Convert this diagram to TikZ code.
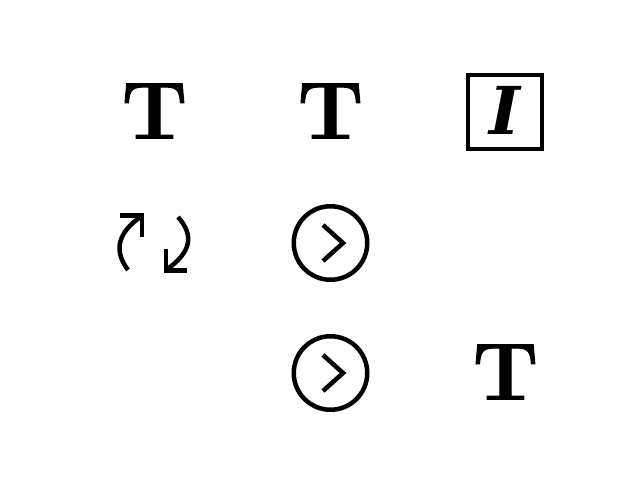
\documentclass[tikz,border=0pt]{standalone}
\usepackage{fontspec}
\newfontfamily\italfont{DejaVu Serif}
\newfontfamily\slabfont[BoldFeatures={FakeBold=1.2}]{Latin Modern Roman}
\tikzset{
  glyph/.style={inner sep=0pt, anchor=base, xscale=1.04, font=\fontsize{81}{81}\selectfont\slabfont\bfseries},
  ring/.style={draw, circle, line width=4.5pt, minimum size=73.5pt, inner sep=0pt},
  stroke/.style={line width=4.5pt},
}
\begin{document}
\begin{tikzpicture}[x=1pt, y=-1pt, >=stealth]
  \useasboundingbox (0,0) rectangle (640,480);
  \node[glyph] (tA) at (154.5,138.5) {T};
  \node[glyph] (tB) at (330.5,138.5) {T};
  \node[glyph] (tC) at (505.5,399.5) {T};
  % boxed italic
  \node[draw, line width=4.5pt, minimum size=74pt, inner sep=0pt] (boxI) at (505,112) {};
  \node[inner sep=0pt, anchor=base, font=\fontsize{66}{66}\selectfont\italfont\bfseries\itshape] (italI) at (505,134.5) {I};
  % refresh icon
  \draw[stroke] (128,270) .. controls (113,250) and (118,232) .. (142,216);
  \draw[stroke] (120,215.5) -- (142,215.5) -- (142,237);
  \draw[stroke] (178,217) .. controls (194,235) and (192,252) .. (166,270);
  \draw[stroke] (166,249) -- (166,270.5) -- (187,270.5);
  % circled chevrons
  \node[ring] (ringA) at (330.5,243) {};
  \node[ring] (ringB) at (330.5,373) {};
  \draw[stroke] (323,225) -- (343,243) -- (323,261);
  \draw[stroke] (323,355) -- (343,373) -- (323,391);
\end{tikzpicture}
\end{document}
